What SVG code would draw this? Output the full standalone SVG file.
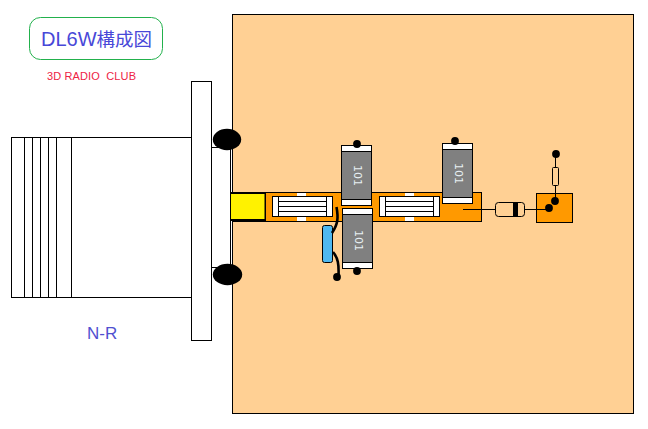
<svg xmlns="http://www.w3.org/2000/svg" width="648" height="429" viewBox="0 0 648 429">
<style>
.o{stroke:#000;stroke-width:1;fill:none}
.w{stroke:#000;stroke-width:1;fill:#fff}
.g{fill:#808080;stroke:#000;stroke-width:1}
.d{fill:#000;stroke:none}
.t{stroke:#000;stroke-width:2.600;fill:none}
.l{font-family:"Liberation Sans","Noto Sans CJK JP",sans-serif}
.c{font-family:"DejaVu Sans",sans-serif;font-size:11px;fill:#e8f0f4;text-anchor:middle}
</style>
<rect width="648" height="429" fill="#fff"/>
<g id="board"><rect x="232.500" y="14.500" width="401" height="399" fill="#ffd094" stroke="#000"/></g>
<g id="title">
<rect x="29.500" y="17.500" width="133" height="42" rx="11" ry="11" fill="#fff" stroke="#22b14c"/>
<text x="41" y="46" class="l" fill="#4848d8"><tspan font-size="20">DL6W</tspan><tspan font-size="18.500">構成図</tspan></text>
</g>
<g id="club"><text x="47" y="80" class="l" font-size="11" fill="#ee2244" xml:space="preserve" textLength="89" lengthAdjust="spacing">3D RADIO  CLUB</text></g>
<g id="connector-body">
<rect x="11.500" y="137.500" width="180" height="160" class="w"/>
<path class="o" d="M24.500 137.500V297.500M32.500 137.500V297.500M40.500 137.500V297.500M48.500 137.500V297.500M56.500 137.500V297.500M71.500 137.500V297.500"/>
</g>
<g id="flange">
<rect x="191.500" y="81.500" width="20" height="259" class="w"/>
<rect x="212" y="147.500" width="20" height="120" fill="#fff"/>
<path class="o" d="M211.500 147.500H231M211.500 267.500H231M230.500 147.500V267.500"/>
</g>
<g id="lug-top"><ellipse cx="227" cy="139.500" rx="14.200" ry="10.700" class="d"/></g>
<g id="lug-bottom"><ellipse cx="227.500" cy="274.500" rx="14.700" ry="10.700" class="d"/></g>
<g id="pcb-strip">
<rect x="232.500" y="192.500" width="249" height="29" fill="#ff9900" stroke="#000"/>
<rect x="297" y="193" width="9" height="4" fill="#fff"/>
<rect x="297" y="217" width="9" height="4" fill="#fff"/>
<rect x="405" y="193" width="9" height="4" fill="#fff"/>
<rect x="405" y="217" width="9" height="4" fill="#fff"/>
</g>
<g id="center-pin">
<rect x="230" y="192" width="36" height="29" class="d"/>
<rect x="231" y="194" width="33.500" height="25" fill="#fff200"/>
</g>
<g id="inductor-1">
<rect x="272.500" y="196.500" width="60" height="20" class="w"/>
<path class="o" d="M278.500 196.500V216.500M326.500 196.500V216.500M278.500 201.500H326.500M278.500 206.500H326.500M278.500 211.500H326.500"/>
</g>
<g id="inductor-2">
<rect x="379.500" y="196.500" width="60" height="20" class="w"/>
<path class="o" d="M385.500 196.500V216.500M433.500 196.500V216.500M385.500 201.500H433.500M385.500 206.500H433.500M385.500 211.500H433.500"/>
</g>
<g id="cap-1">
<rect x="341.500" y="145.500" width="30" height="60" class="w"/>
<rect x="341.500" y="151.500" width="30" height="48" class="g"/>
<circle cx="357" cy="144" r="3.900" class="d"/>
<text class="c" transform="translate(354,175.500) rotate(90)">101</text>
</g>
<g id="cap-2">
<rect x="342.500" y="208.500" width="30" height="60" class="w"/>
<rect x="342.500" y="214.500" width="30" height="48" class="g"/>
<circle cx="357" cy="271" r="3.900" class="d"/>
<text class="c" transform="translate(355,240.500) rotate(90)">101</text>
</g>
<g id="cap-3">
<rect x="442.500" y="143.500" width="30" height="60" class="w"/>
<rect x="442.500" y="149.500" width="30" height="48" class="g"/>
<circle cx="455" cy="141" r="3.900" class="d"/>
<text class="c" transform="translate(455,173.500) rotate(90)">101</text>
</g>
<g id="blue-part"><rect x="322.500" y="225.500" width="10" height="37" rx="2" fill="#4fb8f0" stroke="#000"/></g>
<g id="blue-dot"><circle cx="337" cy="277" r="3.900" class="d"/></g>
<g id="pad">
<rect x="536.500" y="193.500" width="36" height="29" fill="#ff9900" stroke="#000"/>
</g>
<g id="connectors">
<path class="o" d="M463 209.500H495.500M524.500 209.500H549"/>
<path class="o" d="M555.500 154V167.500M555.500 185.500V201"/>
<path class="t" d="M336.500 207C338.500 218 338 224 332 233"/>
<path class="t" d="M333 252C338 258 339 264 338.500 276"/>
</g>
<g id="pad-dots">
<circle cx="549" cy="208" r="3.900" class="d"/>
<circle cx="555" cy="201" r="3.900" class="d"/>
</g>
<g id="diode">
<rect x="495.500" y="202.500" width="29" height="14" rx="3" fill="#ffd094" stroke="#000"/>
<rect x="513" y="203" width="5" height="13" class="d"/>
</g>
<g id="resistor">
<rect x="552.500" y="167.500" width="6" height="18" rx="1" fill="#ffd094" stroke="#000"/>
<circle cx="556" cy="154" r="3.900" class="d"/>
</g>
<g id="label"><text x="87" y="339" class="l" font-size="17" fill="#5050d0">N-R</text></g>
</svg>
